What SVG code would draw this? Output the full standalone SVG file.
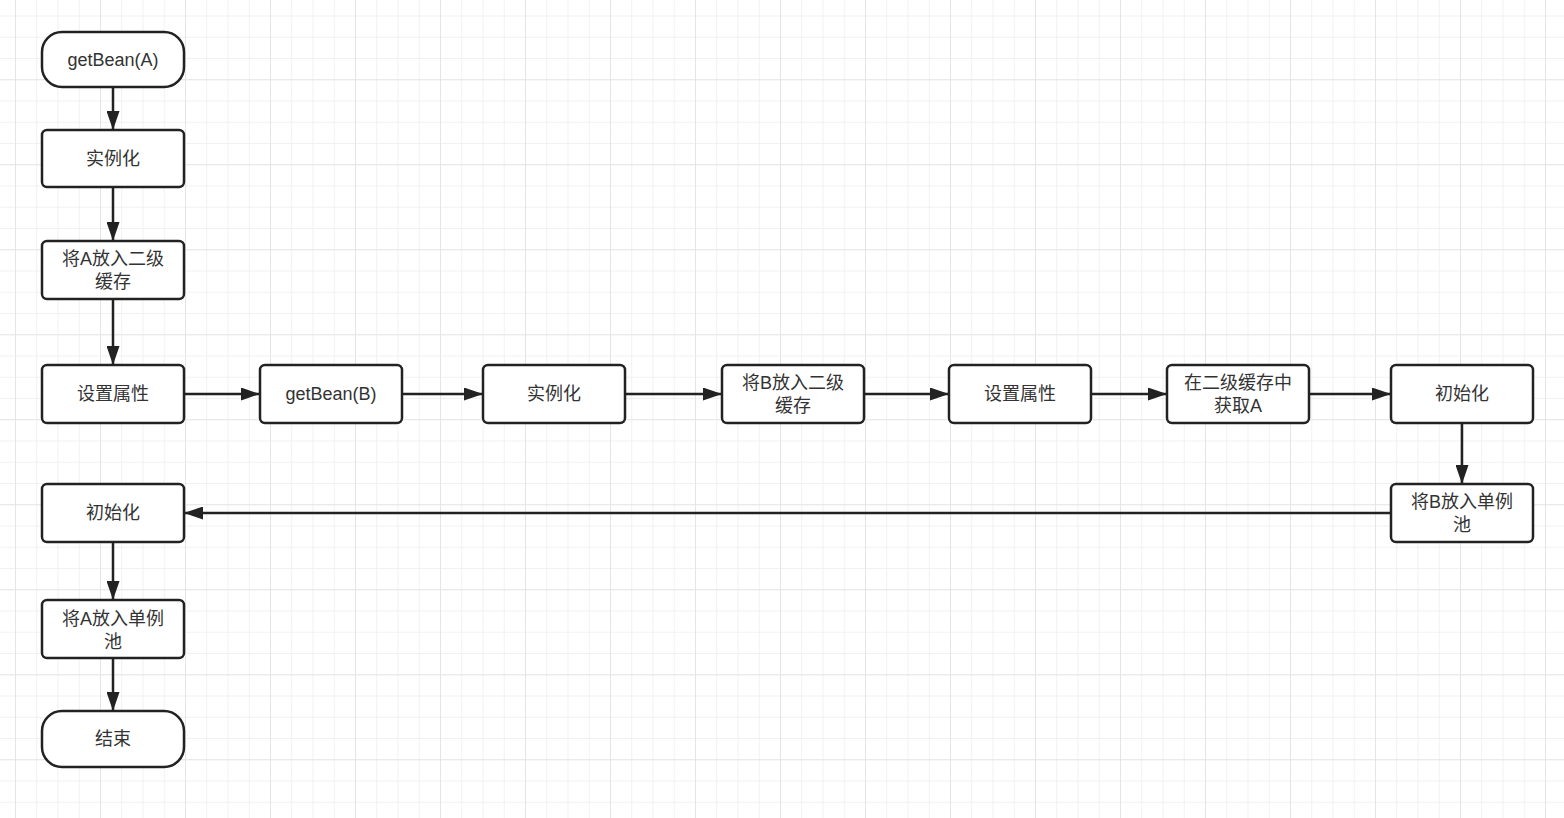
<svg xmlns="http://www.w3.org/2000/svg" width="1564" height="818" viewBox="0 0 1564 818">
<defs>
<pattern id="minor" x="15" y="-5.75" width="21.25" height="21.25" patternUnits="userSpaceOnUse">
<path d="M0 0V21.25M0 0H21.25" fill="none" stroke="#ededed" stroke-width="1.5"/>
</pattern>
<pattern id="major" x="15" y="-5.75" width="85" height="85" patternUnits="userSpaceOnUse">
<path d="M0 0V85M0 0H85" fill="none" stroke="#e2e2e2" stroke-width="1.6"/>
</pattern>
<marker id="arr" viewBox="0 0 19 13" refX="19" refY="6.5" markerWidth="19" markerHeight="13" markerUnits="userSpaceOnUse" orient="auto">
<path d="M0 0L19 6.5L0 13Z" fill="#222"/>
</marker>
</defs>
<style>
.n{fill:#fff;stroke:#222;stroke-width:2.5}
.t{font-family:"Liberation Sans","Noto Sans CJK SC",sans-serif;font-size:18px;fill:#333;text-anchor:middle;dominant-baseline:central}
.c{fill:none;stroke:#222;stroke-width:2.5;marker-end:url(#arr)}
</style>
<rect width="1564" height="818" fill="#fff"/>
<rect width="1564" height="818" fill="url(#minor)"/>
<rect width="1564" height="818" fill="url(#major)"/>
<g id="connectors">
<path class="c" d="M113 87V130"/>
<path class="c" d="M113 187V241"/>
<path class="c" d="M113 299V365"/>
<path class="c" d="M184 394H260"/>
<path class="c" d="M402 394H483"/>
<path class="c" d="M625 394H722"/>
<path class="c" d="M864 394H949"/>
<path class="c" d="M1091 394H1167"/>
<path class="c" d="M1309 394H1391"/>
<path class="c" d="M1462 423V484"/>
<path class="c" d="M1391 513H184"/>
<path class="c" d="M113 542V600"/>
<path class="c" d="M113 658V711"/>
</g>
<g id="n1"><rect class="n" x="42" y="32" width="142" height="55" rx="20"/><text class="t" x="113" y="59.5">getBean(A)</text></g>
<g id="n2"><rect class="n" x="42" y="130" width="142" height="57" rx="5"/><text class="t" x="113" y="158.5">实例化</text></g>
<g id="n3"><rect class="n" x="42" y="241" width="142" height="58" rx="5"/><text class="t" x="113" y="259">将A放入二级</text><text class="t" x="113" y="282">缓存</text></g>
<g id="n4"><rect class="n" x="42" y="365" width="142" height="58" rx="5"/><text class="t" x="113" y="394">设置属性</text></g>
<g id="n5"><rect class="n" x="260" y="365" width="142" height="58" rx="5"/><text class="t" x="331" y="394">getBean(B)</text></g>
<g id="n6"><rect class="n" x="483" y="365" width="142" height="58" rx="5"/><text class="t" x="554" y="394">实例化</text></g>
<g id="n7"><rect class="n" x="722" y="365" width="142" height="58" rx="5"/><text class="t" x="793" y="383">将B放入二级</text><text class="t" x="793" y="406">缓存</text></g>
<g id="n8"><rect class="n" x="949" y="365" width="142" height="58" rx="5"/><text class="t" x="1020" y="394">设置属性</text></g>
<g id="n9"><rect class="n" x="1167" y="365" width="142" height="58" rx="5"/><text class="t" x="1238" y="383">在二级缓存中</text><text class="t" x="1238" y="406">获取A</text></g>
<g id="n10"><rect class="n" x="1391" y="365" width="142" height="58" rx="5"/><text class="t" x="1462" y="394">初始化</text></g>
<g id="n11"><rect class="n" x="1391" y="484" width="142" height="58" rx="5"/><text class="t" x="1462" y="502">将B放入单例</text><text class="t" x="1462" y="525">池</text></g>
<g id="n12"><rect class="n" x="42" y="484" width="142" height="58" rx="5"/><text class="t" x="113" y="513">初始化</text></g>
<g id="n13"><rect class="n" x="42" y="600" width="142" height="58" rx="5"/><text class="t" x="113" y="619">将A放入单例</text><text class="t" x="113" y="642">池</text></g>
<g id="n14"><rect class="n" x="42" y="711" width="142" height="56" rx="20"/><text class="t" x="113" y="739">结束</text></g>
</svg>
